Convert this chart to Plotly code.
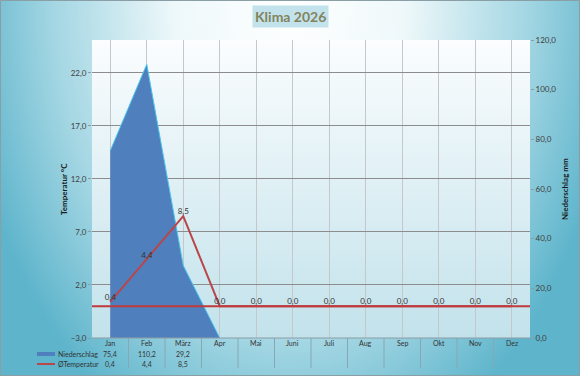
import base64
import plotly.graph_objects as go

# ---------------- data ----------------
monate = ["Jan", "Feb", "März", "Apr", "Mai", "Juni", "Juli", "Aug", "Sep", "Okt", "Nov", "Dez"]
niederschlag = [75.4, 110.2, 29.2, 0.0, None, None, None, None, None, None, None, None]
temperatur = [0.4, 4.4, 8.5, 0.0, 0.0, 0.0, 0.0, 0.0, 0.0, 0.0, 0.0, 0.0]
tabelle_niederschlag = ["75,4", "110,2", "29,2", "", "", "", "", "", "", "", "", ""]
tabelle_temperatur = ["0,4", "4,4", "8,5", "", "", "", "", "", "", "", "", ""]
temp_ticks = [-3, 2, 7, 12, 17, 22]
nied_ticks = [0, 20, 40, 60, 80, 100, 120]

# ---------------- layout geometry ----------------
W, H = 580, 376
ML, MR, MT, MB = 92, 50, 40, 38
PW, PH = W - ML - MR, H - MT - MB


def px_x(p):
    return (p - ML) / PW


def px_y(p):
    return (H - MB - p) / PH


def fmt(v):
    return f"{v:.1f}".replace(".", ",")


def svg_uri(svg):
    return "data:image/svg+xml;base64," + base64.b64encode(svg.encode()).decode()


bg_svg = (
    f"<svg xmlns='http://www.w3.org/2000/svg' width='{W}' height='{H}' preserveAspectRatio='none'>"
    "<defs><radialGradient id='g' gradientUnits='userSpaceOnUse' cx='290' cy='0' r='330' "
    "gradientTransform='translate(290 0) scale(1 1.45) translate(-290 0)'>"
    "<stop offset='0' stop-color='#ffffff'/><stop offset='0.35' stop-color='#eef8fa'/>"
    "<stop offset='0.72' stop-color='#a3d6e3'/>"
    "<stop offset='1' stop-color='#5db4cb'/></radialGradient></defs>"
    f"<rect width='{W}' height='{H}' fill='url(#g)'/></svg>"
)
plot_svg = (
    f"<svg xmlns='http://www.w3.org/2000/svg' width='{PW}' height='{PH}' preserveAspectRatio='none'>"
    "<defs><linearGradient id='p' x1='0' y1='0' x2='0' y2='1'>"
    "<stop offset='0' stop-color='#fbfdfe'/><stop offset='1' stop-color='#c2e2eb'/></linearGradient></defs>"
    f"<rect width='{PW}' height='{PH}' fill='url(#p)'/></svg>"
)

x = list(range(len(monate)))
font = "Lato, 'Open Sans', sans-serif"

fig = go.Figure()
fig.add_trace(go.Scatter(
    x=x, y=niederschlag, yaxis="y", mode="lines", fill="tozeroy",
    line=dict(color="#4cc6ee", width=1), fillcolor="#4f7fbd",
    name="Niederschlag", connectgaps=False, hoverinfo="skip", showlegend=False,
))
fig.add_trace(go.Scatter(
    x=x, y=temperatur, yaxis="y2", mode="lines+text",
    line=dict(color="#b8474a", width=2),
    text=[fmt(v) for v in temperatur], textposition="top center",
    textfont=dict(size=8, color="#333333", family=font),
    name="ØTemperatur", hoverinfo="skip", showlegend=False, cliponaxis=False,
))

shapes = []
# zero line of temperature
shapes.append(dict(type="line", xref="paper", yref="y2", x0=0, x1=1, y0=0, y1=0,
                   line=dict(color="#c0393b", width=2), layer="above"))
# plot bottom border
shapes.append(dict(type="line", xref="paper", yref="paper", x0=0, x1=1, y0=0, y1=0,
                   line=dict(color="#8c9ca4", width=1)))
# table separators
for i in range(len(monate) - 1):
    shapes.append(dict(type="line", xref="x", yref="paper", x0=i + 0.5, x1=i + 0.5,
                       y0=0, y1=px_y(368), line=dict(color="#86a8b4", width=1)))
# legend keys in table
shapes.append(dict(type="rect", xref="paper", yref="paper", x0=px_x(37), x1=px_x(55),
                   y0=px_y(356), y1=px_y(352), fillcolor="#4f7fbd", line=dict(width=0)))
shapes.append(dict(type="line", xref="paper", yref="paper", x0=px_x(37), x1=px_x(55),
                   y0=px_y(364), y1=px_y(364), line=dict(color="#b8474a", width=2)))
# outer frame
shapes.append(dict(type="rect", xref="paper", yref="paper", x0=px_x(0.5), x1=px_x(W - 0.5),
                   y0=px_y(H - 0.5), y1=px_y(0.5), line=dict(color="#8a9ea6", width=1)))

ann = []
ann.append(dict(text="<b>Klima 2026</b>", xref="paper", yref="paper", x=px_x(290), y=px_y(17),
                showarrow=False, font=dict(size=14, color="#84845c", family=font),
                bgcolor="#c2e3ec", borderpad=2, xanchor="center", yanchor="middle"))
ann.append(dict(text="<b>Temperatur °C</b>", xref="paper", yref="paper", x=px_x(64), y=px_y(189),
                showarrow=False, textangle=-90, font=dict(size=8, color="#1a1a1a", family=font),
                xanchor="center", yanchor="middle"))
ann.append(dict(text="<b>Niederschlag mm</b>", xref="paper", yref="paper", x=px_x(565), y=px_y(189),
                showarrow=False, textangle=-90, font=dict(size=8, color="#1a1a1a", family=font),
                xanchor="center", yanchor="middle"))
for i, m in enumerate(monate):
    ann.append(dict(text=m, xref="x", yref="paper", x=i, y=px_y(343), showarrow=False,
                    font=dict(size=7, color="#333333", family=font), yanchor="middle"))
    if tabelle_niederschlag[i]:
        ann.append(dict(text=tabelle_niederschlag[i], xref="x", yref="paper", x=i, y=px_y(354),
                        showarrow=False, font=dict(size=7, color="#333333", family=font), yanchor="middle"))
    if tabelle_temperatur[i]:
        ann.append(dict(text=tabelle_temperatur[i], xref="x", yref="paper", x=i, y=px_y(364),
                        showarrow=False, font=dict(size=7, color="#333333", family=font), yanchor="middle"))
ann.append(dict(text="Niederschlag", xref="paper", yref="paper", x=px_x(56), y=px_y(354),
                showarrow=False, xanchor="left", yanchor="middle",
                font=dict(size=7, color="#333333", family=font)))
ann.append(dict(text="ØTemperatur", xref="paper", yref="paper", x=px_x(56), y=px_y(364),
                showarrow=False, xanchor="left", yanchor="middle",
                font=dict(size=7, color="#333333", family=font)))

fig.update_layout(
    width=W, height=H,
    margin=dict(l=ML, r=MR, t=MT, b=MB, pad=0),
    paper_bgcolor="#a6d6e3", plot_bgcolor="rgba(0,0,0,0)",
    separators=",.",
    font=dict(family=font, size=8, color="#404040"),
    showlegend=False,
    xaxis=dict(range=[-0.5, len(monate) - 0.5], tickvals=x, showticklabels=False,
               showgrid=True, gridcolor="#c4c8ca", gridwidth=1, zeroline=False,
               showline=False, ticks="", fixedrange=True),
    yaxis=dict(side="right", range=[0, 120], tickvals=nied_ticks, tickformat=".1f",
               showgrid=False, zeroline=False, ticks="outside", ticklen=3, tickcolor="#8c9ca4",
               tickfont=dict(size=8, color="#404040"), showline=False),
    yaxis2=dict(side="left", overlaying="y", range=[-3, 25.1], tickvals=temp_ticks, tickformat=".1f",
                showgrid=True, gridcolor="#8c8c8c", gridwidth=1, zeroline=False,
                ticks="outside", ticklen=3, tickcolor="#8c9ca4",
                tickfont=dict(size=8, color="#404040"), showline=False),
    images=[
        dict(source=svg_uri(bg_svg), xref="paper", yref="paper", x=px_x(0), y=px_y(0),
             sizex=W / PW, sizey=H / PH, xanchor="left", yanchor="top", sizing="stretch", layer="below"),
        dict(source=svg_uri(plot_svg), xref="paper", yref="paper", x=0, y=1,
             sizex=1, sizey=1, xanchor="left", yanchor="top", sizing="stretch", layer="below"),
    ],
    shapes=shapes,
    annotations=ann,
)

fig.write_html("out.html", config={"displayModeBar": False, "staticPlot": True},
               post_script="document.body.style.margin='0';document.body.style.overflow='hidden';")
